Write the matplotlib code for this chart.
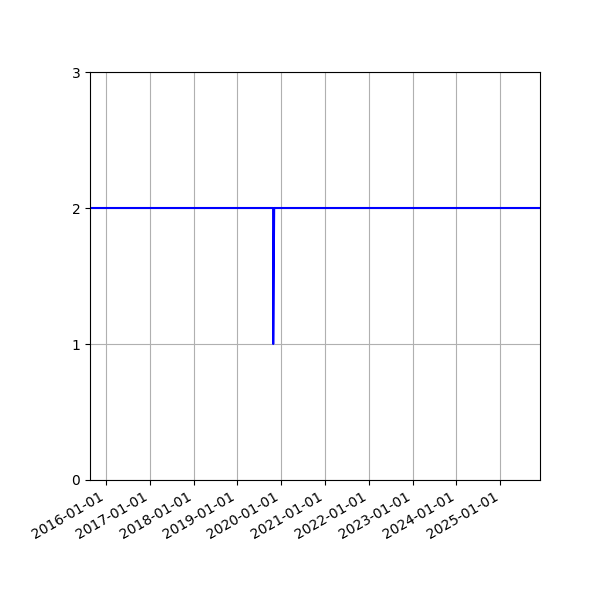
import matplotlib
matplotlib.use("Agg")
import matplotlib.pyplot as plt
import matplotlib.dates as mdates
import pandas as pd

# data
dates = ["2015-08-20", "2019-10-25", "2019-10-26", "2019-11-03", "2025-11-28"]
values = [2, 2, 1, 2, 2]
yticks = [0, 1, 2, 3]

x = pd.to_datetime(dates)

fig, ax = plt.subplots(figsize=(6, 6), dpi=100)
ax.plot(x, values, color="blue", linewidth=1.5)
ax.set_xlim(x[0], x[-1])
ax.set_ylim(0, 3)
ax.set_yticks(yticks)
ax.xaxis.set_major_locator(mdates.YearLocator())
ax.xaxis.set_major_formatter(mdates.DateFormatter("%Y-%m-%d"))
ax.grid(True, color="#b0b0b0")
fig.autofmt_xdate()
fig.subplots_adjust(left=0.15, right=0.9, bottom=0.2, top=0.88)
fig.savefig("out.png")
